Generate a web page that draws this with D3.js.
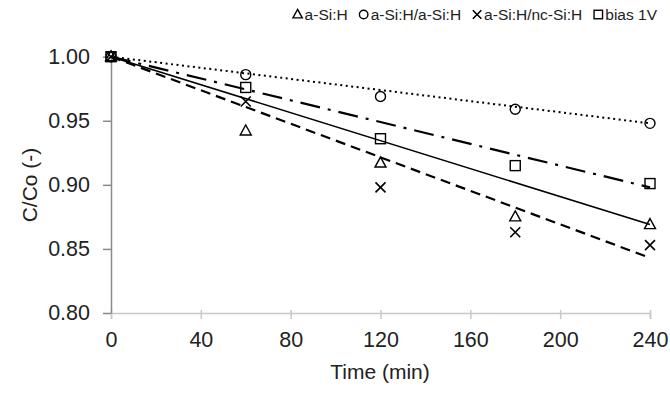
<!DOCTYPE html>
<html><head><meta charset="utf-8">
<script src="https://cdn.jsdelivr.net/npm/d3@7"></script>
<style>
html,body{margin:0;padding:0;background:#fff;}
svg{display:block;font-family:"Liberation Sans",Arial,sans-serif;}
</style></head>
<body>
<svg id="chart" width="670" height="393"></svg>
<script>
// ---- data ----
const times = [0, 60, 120, 180, 240];
const seriesNames = ["a-Si:H", "a-Si:H/a-Si:H", "a-Si:H/nc-Si:H", "bias 1V"];
const aSiH      = [1.000, 0.942, 0.917, 0.875, 0.869];
const aSiHaSiH  = [1.000, 0.986, 0.969, 0.959, 0.948];
const aSiHncSiH = [1.000, 0.965, 0.898, 0.863, 0.853];
const bias1V    = [1.000, 0.976, 0.936, 0.915, 0.901];
// trend lines (start and end values)
const trendTimes = [0, 240];
const trendASiH      = [1.000, 0.869];
const trendASiHaSiH  = [1.000, 0.948];
const trendASiHncSiH = [1.000, 0.843];
const trendBias1V    = [1.000, 0.898];
const xTicks = [0, 40, 80, 120, 160, 200, 240];
const yTicks = [0.80, 0.85, 0.90, 0.95, 1.00];

const svg = d3.select("#chart");
const x = d3.scaleLinear().domain([0, 240]).range([111, 650]);
const y = d3.scaleLinear().domain([0.80, 1.00]).range([313, 56.7]);

// axes
const xAxis = svg.append("g").attr("transform", "translate(0,313)")
  .call(d3.axisBottom(x).tickValues(xTicks).tickFormat(d3.format("d")).tickSize(6).tickPadding(13));
xAxis.select(".domain").attr("stroke", "#c8c8c8").attr("stroke-width", 1.5);
xAxis.selectAll(".tick line").attr("stroke", "#c8c8c8").attr("stroke-width", 1.5).attr("y1", -3);
xAxis.selectAll("text").attr("font-size", 21.5).attr("fill", "#222").attr("font-family", "Liberation Sans, Arial, sans-serif");

const yAxis = svg.append("g").attr("transform", "translate(111,0)")
  .call(d3.axisLeft(y).tickValues(yTicks).tickFormat(d3.format(".2f")).tickSize(8).tickPadding(13).tickSizeOuter(0));
yAxis.select(".domain").attr("stroke", "#8a8a8a").attr("stroke-width", 1.5);
yAxis.selectAll(".tick line").attr("stroke", "#8a8a8a").attr("stroke-width", 1.5);
yAxis.selectAll("text").attr("font-size", 21.5).attr("fill", "#222").attr("font-family", "Liberation Sans, Arial, sans-serif");

// titles
svg.append("text").attr("x", 380).attr("y", 379).attr("text-anchor", "middle")
  .attr("font-size", 21).attr("fill", "#222").text("Time (min)");
svg.append("text").attr("transform", "translate(37,185) rotate(-90)").attr("text-anchor", "middle")
  .attr("font-size", 21).attr("fill", "#222").text("C/Co (-)");

// trend lines
const line = d3.line().x(d => x(d[0])).y(d => y(d[1]));
const trends = [
  {v: trendASiH, dash: null, w: 1.6},
  {v: trendASiHaSiH, dash: "2,3.5", w: 2},
  {v: trendASiHncSiH, dash: "10,6", w: 2.2},
  {v: trendBias1V, dash: "20,8,3,8", w: 2.2}
];
trends.forEach(t => {
  svg.append("path").datum(trendTimes.map((tt, i) => [tt, t.v[i]]))
    .attr("d", line).attr("fill", "none").attr("stroke", "#000")
    .attr("stroke-width", t.w).attr("stroke-dasharray", t.dash);
});

// markers
function marker(g, type, cx, cy, s) {
  s = s || 1;
  if (type === 0) {
    g.append("path").attr("d", `M${cx},${cy-6*s}L${cx+5.5*s},${cy+4*s}L${cx-5.5*s},${cy+4*s}Z`)
      .attr("fill", "none").attr("stroke", "#000").attr("stroke-width", 1.4);
  } else if (type === 1) {
    g.append("circle").attr("cx", cx).attr("cy", cy).attr("r", 5*s)
      .attr("fill", "none").attr("stroke", "#000").attr("stroke-width", 1.4);
  } else if (type === 2) {
    g.append("path").attr("d", `M${cx-5*s},${cy-5*s}L${cx+5*s},${cy+5*s}M${cx+5*s},${cy-5*s}L${cx-5*s},${cy+5*s}`)
      .attr("fill", "none").attr("stroke", "#000").attr("stroke-width", 1.6);
  } else {
    g.append("rect").attr("x", cx-5*s).attr("y", cy-5*s).attr("width", 10*s).attr("height", 10*s)
      .attr("fill", "none").attr("stroke", "#000").attr("stroke-width", 1.4);
  }
}
const allSeries = [aSiH, aSiHaSiH, aSiHncSiH, bias1V];
const mg = svg.append("g");
allSeries.forEach((vals, si) => {
  vals.forEach((v, i) => marker(mg, si, x(times[i]), y(v)));
});

// legend (right-aligned)
const lg = svg.append("g");
const items = seriesNames.map((n, i) => {
  const g = lg.append("g");
  const t = g.append("text").attr("x", 0).attr("y", 20).attr("font-size", 15.5).attr("fill", "#222").text(n);
  return {g, t, w: t.node().getComputedTextLength()};
});
let xr = 657;
for (let i = items.length - 1; i >= 0; i--) {
  const it = items[i];
  const tx = xr - it.w;
  it.t.attr("x", tx);
  marker(it.g, i, tx - 7, 14.5, 0.85);
  xr = tx - 7 - 5 - 11;
}
</script>
</body></html>
